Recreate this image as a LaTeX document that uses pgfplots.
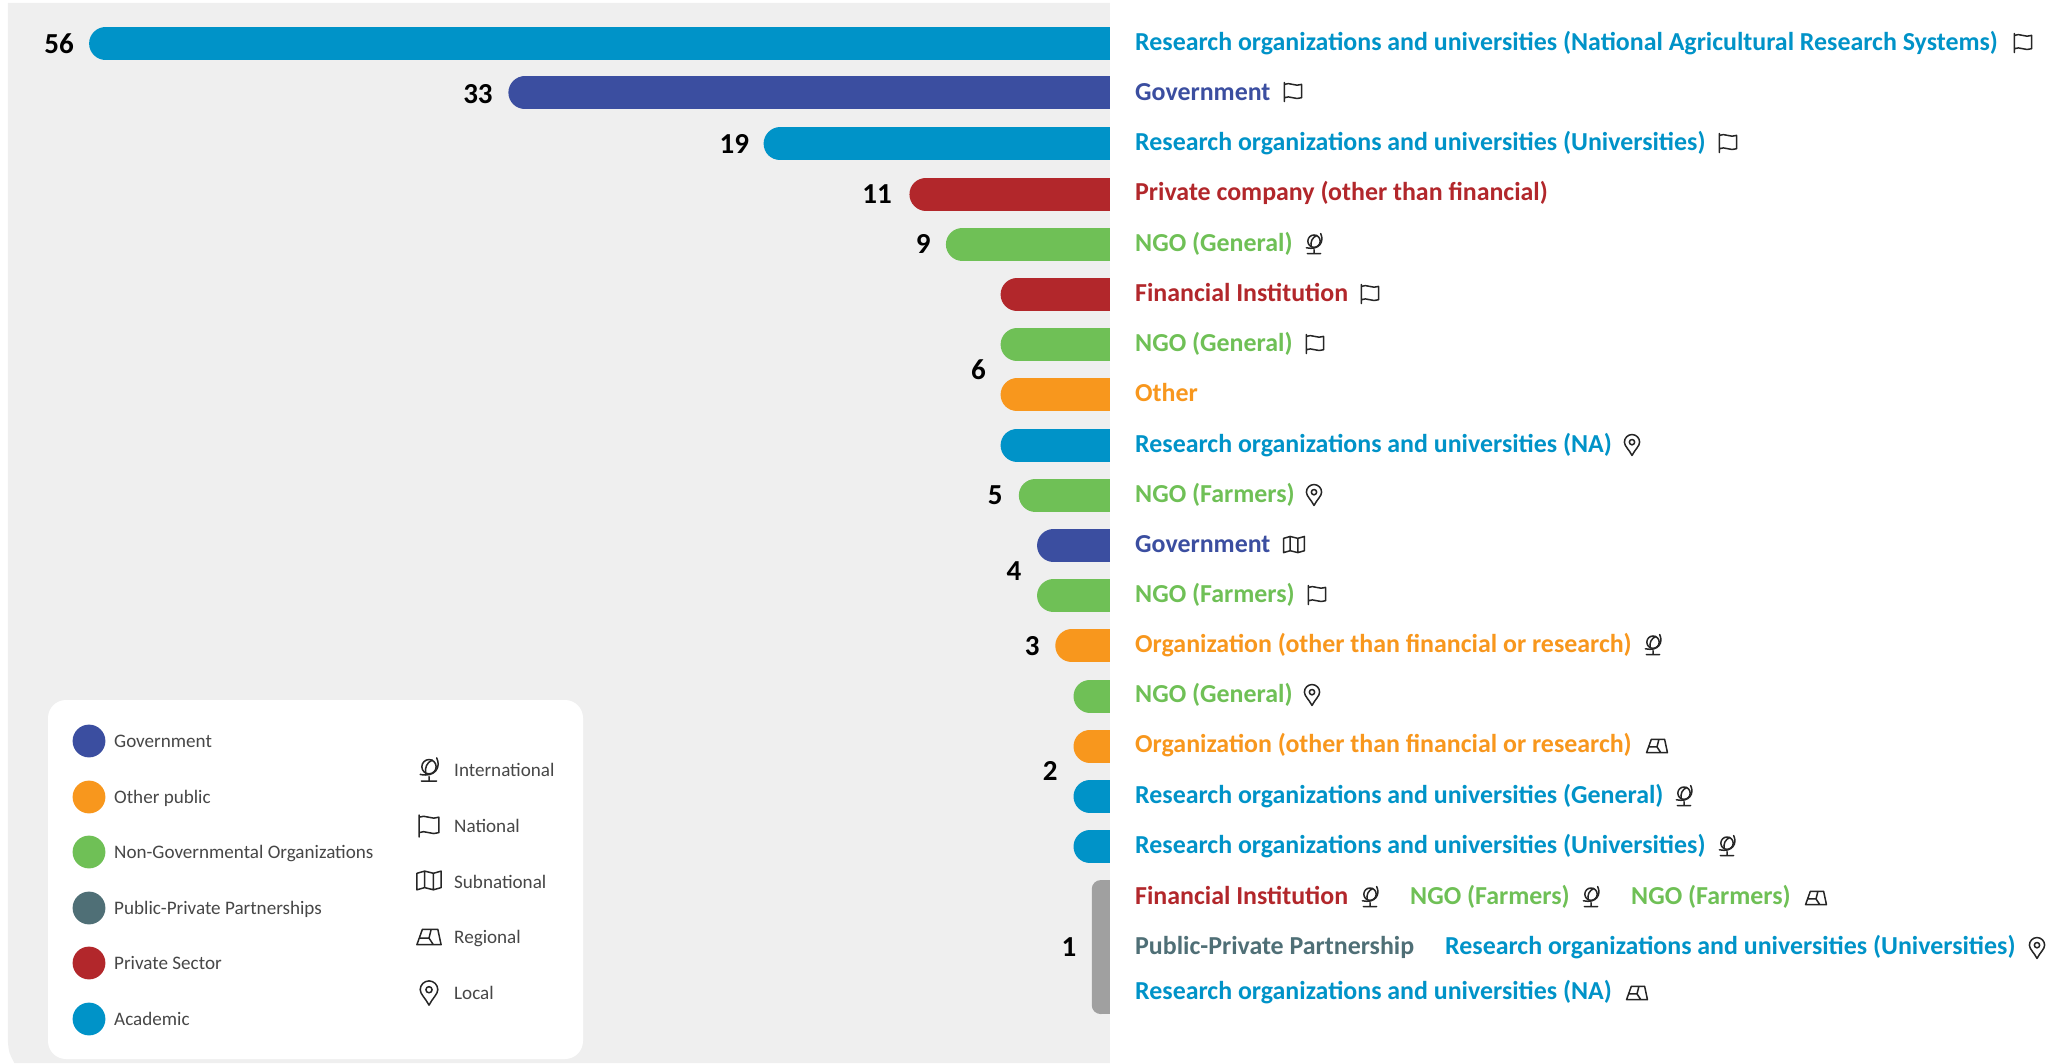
\documentclass[border=0pt]{standalone}
\usepackage{pgfplots}
\pgfplotsset{compat=1.18}
\usepackage{fontspec}
\setmainfont{Carlito}
\definecolor{cGov}{HTML}{3B4EA0}
\definecolor{cOrg}{HTML}{F8971D}
\definecolor{cNgo}{HTML}{6FC056}
\definecolor{cPpp}{HTML}{4F6F76}
\definecolor{cPvt}{HTML}{B2272B}
\definecolor{cAca}{HTML}{0093C8}
\definecolor{cBg}{HTML}{EFEFEF}
\definecolor{cGry}{HTML}{A0A0A0}
\tikzset{
 icon/.style={line width=1.5pt,draw=black!85,fill=none,line join=round,line cap=round},
 pics/flag/.style={code={
  \draw[icon] (-9,-10)--(-9,10) (-9,8) .. controls (-4,11) and (3,5) .. (9,8) -- (9,-6) .. controls (3,-9) and (-4,-3) .. (-9,-6);}},
 pics/globe/.style={code={
  \draw[icon] (0,3) circle (6.5);
  \draw[icon] (3,9) .. controls (-2,7) and (-4,2) .. (-3,-3);
  \draw[icon] (7,11) .. controls (11,3) and (6,-7) .. (-8,-4) (0,-6)--(0,-10) (-7,-10)--(7,-10);}},
 pics/submap/.style={code={
  \draw[icon] (-11,-8)--(-11,7)--(-4,9)--(4,7)--(11,9)--(11,-6)--(4,-8)--(-4,-6)--cycle (-4,9)--(-4,-6) (4,7)--(4,-8);}},
 pics/regional/.style={code={
  \draw[icon] (-11,-7)--(-6,7)--(8,7)--(11,-7)--cycle (-8,-1)--(0,-1)--(2,7) (0,-1)--(4,-7);}},
 pics/pin/.style={code={
  \draw[icon] (0,-11) .. controls (-3,-5) and (-8,-1) .. (-8,3) arc (180:0:8) .. controls (8,-1) and (3,-5) .. (0,-11)--cycle;
  \draw[icon] (0,3) circle (2.8);}},
}
\newcommand{\lab}[4]{\node[anchor=base west,inner sep=0pt,text=#1,font=\fontsize{25.9}{30}\selectfont\bfseries] at (#2,-#3-9) {#4};}
\newcommand{\ico}[3]{\pic[x=1pt,y=1pt,scale=0.95] at (#2,-#3-1) {#1};}
\newcommand{\lico}[3]{\pic[x=1pt,y=1pt,scale=1.1] at (#2,-#3-1) {#1};}
\newcommand{\leg}[3]{\node[anchor=base west,inner sep=0pt,text=black!72,font=\fontsize{19.1}{24}\selectfont] at (#1,-#2-6) {#3};}
\begin{document}
\begin{tikzpicture}[x=1pt,y=1pt]
\path[use as bounding box] (0,0) rectangle (2059,-1063);
\begin{axis}[at={(0,0)},anchor=north west,scale only axis,width=2059pt,height=1063pt,hide axis,clip=false,
  xmin=-60.888,xmax=52.057,ymin=-0.8665,ymax=20.309,y dir=reverse,
  xbar,bar width=33pt]
% background panels are drawn first so that the bars sit above them
\fill[cBg] (axis cs:0,-0.81) -- (axis cs:-60.45,-0.81) -- (axis cs:-60.45,19.9) .. controls (axis cs:-60.4,20.1) .. (axis cs:-60.1,20.309) -- (axis cs:0,20.309) -- cycle;
\addplot[xcomb,draw=cAca,line width=33pt,line cap=round,shorten >=16.5pt] coordinates {(-56,0)};
\addplot[xcomb,draw=cGov,line width=33pt,line cap=round,shorten >=16.5pt] coordinates {(-33,0.98)};
\addplot[xcomb,draw=cAca,line width=33pt,line cap=round,shorten >=16.5pt] coordinates {(-19,2)};
\addplot[xcomb,draw=cPvt,line width=33pt,line cap=round,shorten >=16.5pt] coordinates {(-11,3)};
\addplot[xcomb,draw=cNgo,line width=33pt,line cap=round,shorten >=16.5pt] coordinates {(-9,4)};
\addplot[xcomb,draw=cPvt,line width=33pt,line cap=round,shorten >=16.5pt] coordinates {(-6,5)};
\addplot[xcomb,draw=cNgo,line width=33pt,line cap=round,shorten >=16.5pt] coordinates {(-6,6)};
\addplot[xcomb,draw=cOrg,line width=33pt,line cap=round,shorten >=16.5pt] coordinates {(-6,7)};
\addplot[xcomb,draw=cAca,line width=33pt,line cap=round,shorten >=16.5pt] coordinates {(-6,8)};
\addplot[xcomb,draw=cNgo,line width=33pt,line cap=round,shorten >=16.5pt] coordinates {(-5,9)};
\addplot[xcomb,draw=cGov,line width=33pt,line cap=round,shorten >=16.5pt] coordinates {(-4,10)};
\addplot[xcomb,draw=cNgo,line width=33pt,line cap=round,shorten >=16.5pt] coordinates {(-4,11)};
\addplot[xcomb,draw=cOrg,line width=33pt,line cap=round,shorten >=16.5pt] coordinates {(-3,12)};
\addplot[xcomb,draw=cNgo,line width=33pt,line cap=round,shorten >=16.5pt] coordinates {(-2,13)};
\addplot[xcomb,draw=cOrg,line width=33pt,line cap=round,shorten >=16.5pt] coordinates {(-2,14)};
\addplot[xcomb,draw=cAca,line width=33pt,line cap=round,shorten >=16.5pt] coordinates {(-2,15)};
\addplot[xcomb,draw=cAca,line width=33pt,line cap=round,shorten >=16.5pt] coordinates {(-2,16)};
\addplot[xbar,fill=cGry,draw=none,bar width=134pt,rounded corners=9pt] coordinates {(-1,18)};
\fill[cGry] (axis cs:-0.5,16.665) rectangle (axis cs:0,19.335);
\fill[white] (axis cs:0,-0.8665) rectangle (axis cs:52.057,20.309);
\begin{scope}[every node/.style={font=\fontsize{29}{32}\selectfont\bfseries,text=black}]
\node at (axis cs:-57.65,0) {56};
\node at (axis cs:-34.67,1) {33};
\node at (axis cs:-20.6,2) {19};
\node at (axis cs:-12.77,3) {11};
\node at (axis cs:-10.25,4) {9};
\node at (axis cs:-7.22,6.5) {6};
\node at (axis cs:-6.3,9) {5};
\node at (axis cs:-5.27,10.5) {4};
\node at (axis cs:-4.27,12) {3};
\node at (axis cs:-3.28,14.5) {2};
\node at (axis cs:-2.25,18) {1};
\end{scope}
\end{axis}
% ---- legend panel
\fill[white,rounded corners=18pt] (48,-700) rectangle (583,-1059);
\foreach \y/\c in {741/cGov,797/cOrg,852/cNgo,908/cPpp,963/cPvt,1019/cAca}{\fill[\c] (89,-\y) circle (16.4);}
\leg{114}{741}{Government}
\leg{114}{797}{Other public}
\leg{114}{852}{Non-Governmental Organizations}
\leg{114}{908}{Public-Private Partnerships}
\leg{114}{963}{Private Sector}
\leg{114}{1019}{Academic}
\leg{454}{770}{International}
\leg{454}{826}{National}
\leg{454}{882}{Subnational}
\leg{454}{937}{Regional}
\leg{454}{993}{Local}
\lico{globe}{429}{769}
\lico{flag}{429}{825}
\lico{submap}{429}{880}
\lico{regional}{429}{936}
\lico{pin}{429}{992}
% ---- category labels
\lab{cAca}{1135}{41}{Research organizations and universities (National Agricultural Research Systems)}
\ico{flag}{2023}{42}
\lab{cGov}{1135}{91}{Government}
\ico{flag}{1293}{91}
\lab{cAca}{1135}{141}{Research organizations and universities (Universities)}
\ico{flag}{1728}{142}
\lab{cPvt}{1135}{191}{Private company (other than financial)}
\lab{cNgo}{1135}{242}{NGO (General)}
\ico{globe}{1314}{243}
\lab{cPvt}{1135}{292}{Financial Institution}
\ico{flag}{1370}{293}
\lab{cNgo}{1135}{342}{NGO (General)}
\ico{flag}{1315}{343}
\lab{cOrg}{1135}{392}{Other}
\lab{cAca}{1135}{443}{Research organizations and universities (NA)}
\ico{pin}{1632}{444}
\lab{cNgo}{1135}{493}{NGO (Farmers)}
\ico{pin}{1314}{494}
\lab{cGov}{1135}{543}{Government}
\ico{submap}{1294}{544}
\lab{cNgo}{1135}{593}{NGO (Farmers)}
\ico{flag}{1317}{594}
\lab{cOrg}{1135}{643}{Organization (other than financial or research)}
\ico{globe}{1653}{644}
\lab{cNgo}{1135}{693}{NGO (General)}
\ico{pin}{1312}{694}
\lab{cOrg}{1135}{743}{Organization (other than financial or research)}
\ico{regional}{1657}{745}
\lab{cAca}{1135}{794}{Research organizations and universities (General)}
\ico{globe}{1684}{795}
\lab{cAca}{1135}{844}{Research organizations and universities (Universities)}
\ico{globe}{1727}{845}
\lab{cPvt}{1135}{895}{Financial Institution}
\ico{globe}{1370}{896}
\lab{cNgo}{1410}{895}{NGO (Farmers)}
\ico{globe}{1591}{896}
\lab{cNgo}{1631}{895}{NGO (Farmers)}
\ico{regional}{1816}{897}
\lab{cPpp}{1135}{945}{Public-Private Partnership}
\lab{cAca}{1445}{945}{Research organizations and universities (Universities)}
\ico{pin}{2037}{947}
\lab{cAca}{1135}{990}{Research organizations and universities (NA)}
\ico{regional}{1637}{992}
\end{tikzpicture}
\end{document}
